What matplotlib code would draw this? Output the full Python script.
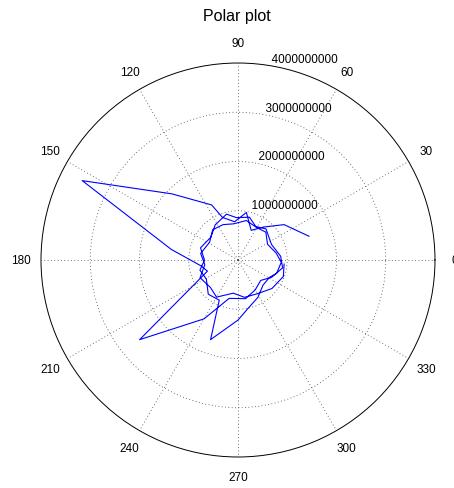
import matplotlib
matplotlib.use('Agg')
import matplotlib.pyplot as plt
import numpy as np

plt.rcParams['font.family'] = ['Liberation Sans', 'DejaVu Sans']

# path: angle in degrees, radius in units of 1e9
theta_deg = [18.5, 37.5, 52, 66, 80, 95, 110, 115.6, 135, 153, 171, 189, 200, 219, 240,
             257, 281, 300, 318, 333, 350, 5, 25, 48, 62, 75, 92, 104, 123, 140, 162,
             180, 195, 211, 229, 245, 251, 270, 282, 298, 315, 331, 341, 357, 10, 28,
             45, 60, 78, 97, 113, 130, 148, 170, 188, 205, 225, 240, 262, 280, 300, 320,
             340, 355]
r_e9 = [1.52, 1.18, 0.85, 0.66, 0.98, 0.78, 0.92, 1.24, 1.90, 3.55, 1.37, 0.76, 0.66, 2.57, 1.38,
        0.80, 0.80, 0.70, 0.62, 0.77, 0.92, 0.87, 0.75, 0.85, 0.77, 0.90, 0.86, 0.96, 0.85, 0.72, 0.80,
        0.68, 0.80, 0.75, 0.92, 0.90, 1.71, 1.22, 1.00, 0.86, 0.72, 0.73, 0.83, 0.88, 0.79, 0.68,
        0.80, 0.76, 0.82, 0.74, 0.78, 0.80, 0.68, 0.77, 0.68, 0.85, 0.79, 0.87, 0.68, 0.77, 0.79, 0.90,
        0.98, 0.94]
rings = [1000000000, 2000000000, 3000000000, 4000000000]
angle_ticks = list(range(0, 360, 30))

theta = np.deg2rad(theta_deg)
r = np.array(r_e9) * 1e9

fig = plt.figure(figsize=(4.54, 4.89), dpi=100)
ax = fig.add_axes([0.0903, 0.0634, 0.8678, 0.8057], projection='polar')

ax.plot(theta, r, '-', color='#0000ff', lw=0.8)

ax.set_rlim(0, rings[-1])
ax.set_rgrids(rings[:-1], labels=['']*3)
ax.set_thetagrids(angle_ticks, labels=[str(a) for a in angle_ticks])
ax.grid(True, color='#444444', linestyle=(0, (1, 3)), lw=0.6)
ax.tick_params(axis='x', labelsize=8.5, pad=4, colors='black')
ax.spines['polar'].set_color('black')
ax.spines['polar'].set_linewidth(0.7)

for rv in rings:
    ax.text(np.deg2rad(82), rv, '  ' + str(rv), ha='left', va='bottom', fontsize=8.5)

fig.text(0.522, 1 - 17/489, 'Polar plot', ha='center', va='center', fontsize=11.5)

plt.savefig('out.png', dpi=100)
